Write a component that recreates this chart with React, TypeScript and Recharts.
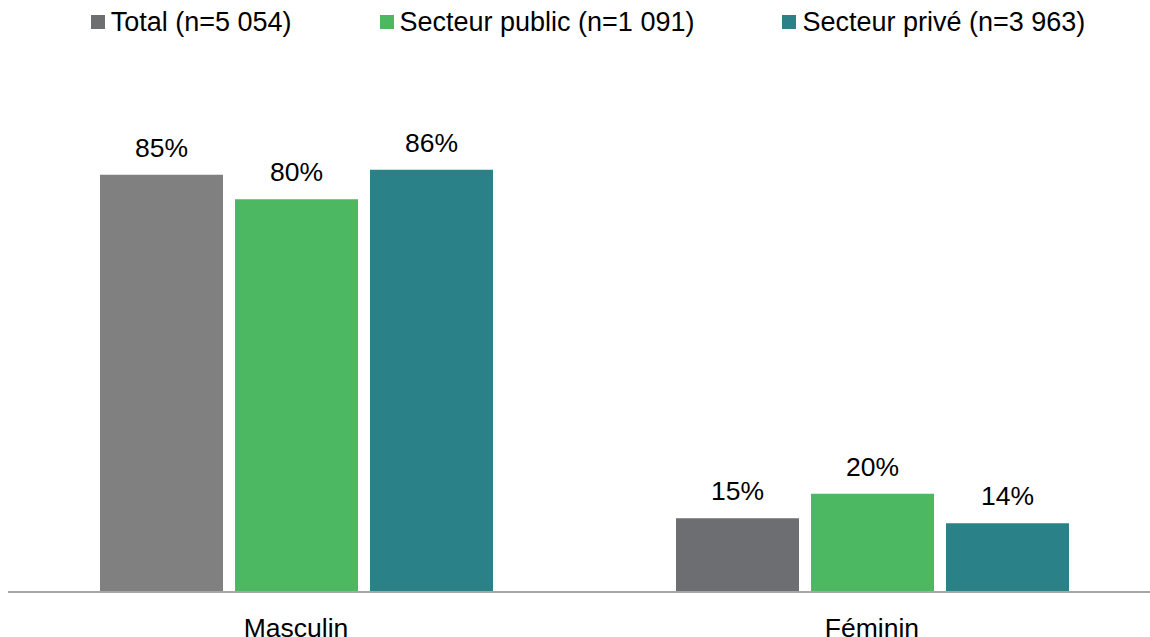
import React from "react";
import { BarChart, Bar, XAxis, YAxis, Legend, LabelList, Cell } from "recharts";

// catégories et séries (en %)
const categories = ["Masculin", "Féminin"];
const total = [85, 15];
const secteurPublic = [80, 20];
const secteurPrive = [86, 14];

const seriesNames = ["Total (n=5 054)", "Secteur public (n=1 091)", "Secteur privé (n=3 963)"];

const totalColors = ["#808080", "#6d6e71"];
const colors = ["#6d6e71", "#4cb862", "#2a8288"];

const data = categories.map((cat, i) => ({
  cat,
  total: total[i],
  public: secteurPublic[i],
  prive: secteurPrive[i],
}));

const FONT = '"Liberation Sans", Arial, sans-serif';
const labelStyle = { fontSize: 26.5, fill: "#000", fontFamily: FONT };

function LegendContent() {
  return (
    <div
      style={{
        display: "flex",
        justifyContent: "center",
        alignItems: "center",
        height: 30,
        fontFamily: FONT,
        fontSize: 27,
        color: "#000",
        whiteSpace: "nowrap",
      }}
    >
      {seriesNames.map((name, i) => (
        <div key={name} style={{ display: "flex", alignItems: "center", marginLeft: i === 0 ? 0 : 88 }}>
          <span style={{ width: 14, height: 14, background: colors[i], marginRight: 6, display: "inline-block" }} />
          <span>{name}</span>
        </div>
      ))}
    </div>
  );
}

export default function App() {
  return (
    <div style={{ position: "absolute", left: 0, top: 0, width: 1150, height: 637, overflow: "hidden" }}>
      <BarChart
        width={1160}
        height={637}
        data={data}
        margin={{ top: 71, right: 0, left: 8, bottom: 0 }}
        barCategoryGap={92}
        barGap={12}
      >
        <Legend verticalAlign="top" content={<LegendContent />} wrapperStyle={{ top: 7, left: 0, width: 1176 }} />
        <XAxis
          dataKey="cat"
          height={45}
          tickLine={false}
          tickMargin={20}
          axisLine={{ stroke: "#a6a6a6", strokeWidth: 2 }}
          tick={{ ...labelStyle }}
        />
        <YAxis hide domain={[0, 100]} />
        <Bar dataKey="total" fill={colors[0]} isAnimationActive={false}>
          {data.map((d, i) => (
            <Cell key={d.cat} fill={totalColors[i]} />
          ))}
          <LabelList dataKey="total" position="top" offset={18} formatter={(v: number) => `${v}%`} style={labelStyle} />
        </Bar>
        <Bar dataKey="public" fill={colors[1]} isAnimationActive={false}>
          <LabelList dataKey="public" position="top" offset={18} formatter={(v: number) => `${v}%`} style={labelStyle} />
        </Bar>
        <Bar dataKey="prive" fill={colors[2]} isAnimationActive={false}>
          <LabelList dataKey="prive" position="top" offset={18} formatter={(v: number) => `${v}%`} style={labelStyle} />
        </Bar>
      </BarChart>
    </div>
  );
}
